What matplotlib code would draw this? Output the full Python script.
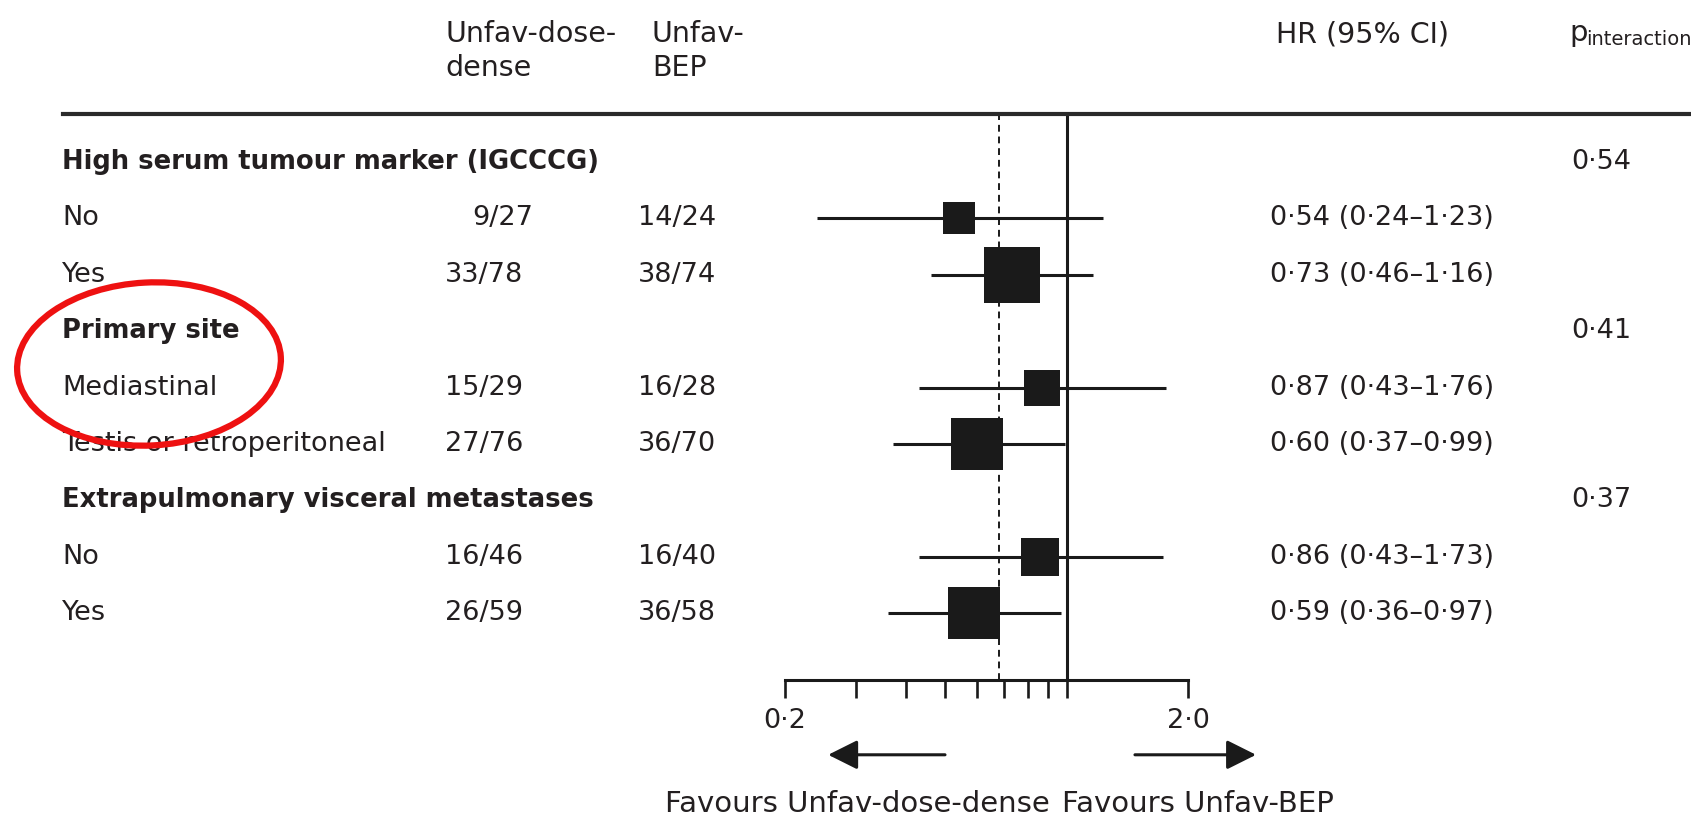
import matplotlib
matplotlib.use('Agg')
import matplotlib.pyplot as plt
from matplotlib.lines import Line2D
from matplotlib.patches import Ellipse
from matplotlib.ticker import NullFormatter
from matplotlib.transforms import blended_transform_factory

# Data
row_labels = ['High serum tumour marker (IGCCCG)', 'No', 'Yes',
              'Primary site', 'Mediastinal', 'Testis or retroperitoneal',
              'Extrapulmonary visceral metastases', 'No', 'Yes']
is_group = [True, False, False, True, False, False, True, False, False]
dose_dense = ['', '9/27', '33/78', '', '15/29', '27/76', '', '16/46', '26/59']
bep = ['', '14/24', '38/74', '', '16/28', '36/70', '', '16/40', '36/58']
hr = [None, 0.54, 0.73, None, 0.87, 0.60, None, 0.86, 0.59]
ci_low = [None, 0.24, 0.46, None, 0.43, 0.37, None, 0.43, 0.36]
ci_high = [None, 1.23, 1.16, None, 1.76, 0.99, None, 1.73, 0.97]
p_interaction = ['0·54', '', '', '0·41', '', '', '0·37', '', '']
overall_hr = 0.68

W, H = 1691, 815
txt = '#231f20'
fs = 19.5

def fx(px):
    return px / W

def fy(py):
    return 1 - py / H

fig = plt.figure(figsize=(W / 100, H / 100), dpi=100)

# forest axes: x from 0.2 to 2.0 on log scale, rows 0..8
ax = fig.add_axes([fx(785), fy(680), fx(1188) - fx(785), (680 - 114) / H])
ax.set_xscale('log')
ax.set_xlim(0.2, 2.0)
ax.set_ylim(9.184, -0.851)
for s in ['top', 'left', 'right']:
    ax.spines[s].set_visible(False)
ax.spines['bottom'].set_linewidth(2.2)
ax.spines['bottom'].set_color('#1a1a1a')
ax.set_yticks([])
ax.set_xticks([0.2, 2.0])
ax.set_xticklabels(['0·2', '2·0'])
ax.set_xticks([0.3, 0.4, 0.5, 0.6, 0.7, 0.8, 0.9, 1.0], minor=True)
ax.xaxis.set_minor_formatter(NullFormatter())
ax.tick_params(axis='x', which='both', direction='out', length=13, width=1.9,
               color='#1a1a1a', pad=7, labelsize=fs, labelcolor=txt)

ax.axvline(1.0, color='#1a1a1a', lw=2.2)
ax.axvline(overall_hr, color='#1a1a1a', lw=1.4, ls=(0, (3.5, 2.5)))

tr = blended_transform_factory(fig.transFigure, ax.transData)

for i, lab in enumerate(row_labels):
    if is_group[i]:
        ax.text(fx(62), i, lab, transform=tr, ha='left', va='center',
                fontsize=18.6, color=txt, fontweight='bold')
    else:
        ax.text(fx(62), i, lab, transform=tr, ha='left', va='center',
                fontsize=fs, color=txt)
    if dose_dense[i]:
        x1 = 472 if len(dose_dense[i]) == 4 else 445
        ax.text(fx(x1), i, dose_dense[i], transform=tr, ha='left', va='center',
                fontsize=fs, color=txt)
        ax.text(fx(638), i, bep[i], transform=tr, ha='left', va='center',
                fontsize=fs, color=txt)
    if p_interaction[i]:
        ax.text(fx(1571), i, p_interaction[i], transform=tr, ha='left',
                va='center', fontsize=fs, color=txt)
    if hr[i] is not None:
        label = '%.2f (%.2f–%.2f)' % (hr[i], ci_low[i], ci_high[i])
        ax.text(fx(1270), i, label.replace('.', '·'), transform=tr, ha='left',
                va='center', fontsize=fs, color=txt)
        ax.plot([ci_low[i], ci_high[i]], [i, i], color='#1a1a1a', lw=2.2,
                solid_capstyle='butt')
        events = int(dose_dense[i].split('/')[0]) + int(bep[i].split('/')[0])
        ax.scatter([hr[i]], [i], marker='s', s=22.6 * events, color='#1a1a1a',
                   linewidths=0, zorder=3)

# column headers
hfs = 20.5
fig.text(fx(445), fy(51), 'Unfav-dose-\ndense', ha='left', va='center',
         fontsize=hfs, color=txt, linespacing=1.3)
fig.text(fx(652), fy(51), 'Unfav-\nBEP', ha='left', va='center',
         fontsize=hfs, color=txt, linespacing=1.3)
fig.text(fx(1276), fy(42), 'HR (95% CI)', ha='left', va='baseline',
         fontsize=hfs, color=txt)
fig.text(fx(1569), fy(41), 'p', ha='left', va='baseline', fontsize=21, color=txt)
fig.text(fx(1586), fy(45), 'interaction', ha='left', va='baseline',
         fontsize=14, color=txt)

fig.add_artist(Line2D([fx(63), 1], [fy(114), fy(114)], transform=fig.transFigure,
                      color='#2a2a2a', lw=3))

# direction arrows and labels
arrow_y = 10.51
ax.annotate('', xy=(0.256, arrow_y), xytext=(0.499, arrow_y), xycoords='data',
            annotation_clip=False,
            arrowprops=dict(arrowstyle='-|>,head_length=1.0,head_width=0.5',
                            mutation_scale=18, lw=2.2, color='#1a1a1a',
                            shrinkA=0, shrinkB=0))
ax.annotate('', xy=(2.95, arrow_y), xytext=(1.477, arrow_y), xycoords='data',
            annotation_clip=False,
            arrowprops=dict(arrowstyle='-|>,head_length=1.0,head_width=0.5',
                            mutation_scale=18, lw=2.2, color='#1a1a1a',
                            shrinkA=0, shrinkB=0))
fig.text(fx(1050), fy(790), 'Favours Unfav-dose-dense', ha='right', va='top',
         fontsize=21, color=txt)
fig.text(fx(1062), fy(790), 'Favours Unfav-BEP', ha='left', va='top',
         fontsize=21, color=txt)

# red highlight round "Primary site"
fig.add_artist(Ellipse((1.49, (H - 364) / 100), 2.64, 1.63, angle=3,
                       transform=fig.dpi_scale_trans, fill=False,
                       ec='#ee1111', lw=4.5))

fig.savefig('out.png', dpi=100)
